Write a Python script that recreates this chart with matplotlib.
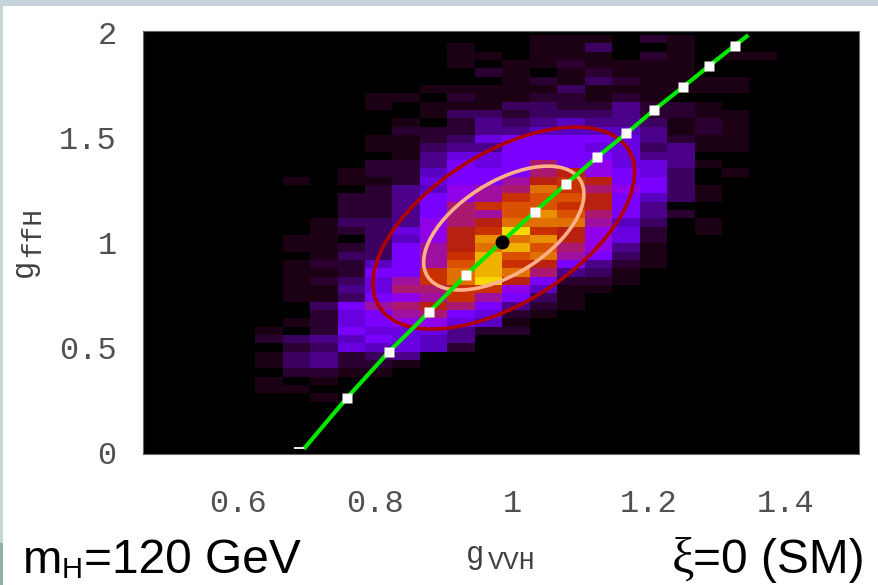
import numpy as np
import matplotlib
matplotlib.use('Agg')
import matplotlib.pyplot as plt
from matplotlib.colors import ListedColormap
from matplotlib.patches import Ellipse, Rectangle

# histogram levels, top row first, columns start at bin 4
hist_rows = [
    [0,0,0,0,0,0,0,0,0,0,1,1,1,0,2,1],
    [0,0,0,0,0,0,0,1,0,0,1,1,3,0,0,1],
    [0,0,0,0,0,0,0,1,1,0,1,1,1,0,2,1,0,1,1],
    [0,0,0,0,0,0,0,1,0,1,1,2,1,1,1,1],
    [0,0,0,0,0,0,0,0,2,1,0,1,2,1,1,1],
    [0,0,0,0,0,0,0,0,0,1,2,1,3,2,1,1,1,1],
    [0,0,0,0,0,0,1,1,1,1,1,3,1,1,1,1,1,1],
    [0,0,0,0,1,1,0,2,1,1,2,2,1,2,1],
    [0,0,0,0,1,0,1,1,1,3,3,2,2,4,2,2,1],
    [0,0,0,0,0,0,1,3,3,2,3,3,3,4,2,2,1,1],
    [0,0,0,0,0,1,0,2,4,3,4,5,4,4,3,1,2,1],
    [0,0,0,0,0,2,2,2,4,4,5,5,5,5,4,1,2,1],
    [0,0,0,0,1,1,2,3,6,7,7,7,7,6,4,2,1,1],
    [0,0,0,0,1,1,3,4,4,7,7,7,6,6,3,4,1,1],
    [0,0,0,0,0,1,4,6,6,7,7,7,7,6,4,4],
    [0,0,0,0,2,2,4,7,6,7,10,7,8,6,6,4,1],
    [0,0,0,1,2,2,5,7,7,7,10,11,8,7,6,3,0,1],
    [0,1,0,1,1,2,6,7,7,9,11,12,11,7,7,3],
    [0,0,0,0,2,4,5,8,9,10,14,12,10,8,7,3,1],
    [0,0,0,2,2,4,7,8,9,12,13,13,11,7,5,3,1],
    [0,0,0,2,2,4,7,10,12,13,13,12,11,7,4],
    [0,0,0,2,2,4,7,10,9,13,15,13,10,7,4,2],
    [0,0,1,3,3,4,8,10,11,14,14,14,9,5,3,0,1],
    [0,0,1,2,3,6,8,11,12,17,12,11,8,6,2,0,1],
    [0,1,1,0,3,5,8,11,15,14,15,11,8,6,2],
    [0,1,1,2,3,7,9,11,14,16,13,10,8,4,1],
    [0,0,1,3,3,7,9,12,16,13,14,9,7,3,1],
    [0,1,2,2,5,7,9,13,16,12,11,7,4,2,1],
    [0,1,1,2,7,7,12,14,16,14,10,4,3,1],
    [0,1,2,3,6,9,12,14,17,11,7,2,2,1],
    [0,1,1,4,6,10,10,12,12,8,5,1,1],
    [0,1,1,3,7,8,9,12,9,7,3,1],
    [0,0,3,7,9,10,11,10,7,4,2,1],
    [0,0,2,6,7,9,10,7,6,2,1],
    [0,1,2,6,7,8,8,6,5,1],
    [1,0,2,7,6,6,6,4,2,2],
    [2,3,4,5,7,6,5,4],
    [0,2,3,6,5,6,5,2],
    [1,3,4,2,3,4],
    [1,3,4,2,2,1],
    [0,2,2,1,1],
    [1,0,1],
    [1,1],
    [0,0,1],
]
level_colors = ['#000000', '#1c0014', '#2a0030', '#3c0060', '#4a0088', '#5a00c0',
                '#6800e0', '#7a00ff', '#9000e8', '#a010a0', '#aa1870', '#b82010',
                '#c83000', '#d85000', '#e07000', '#e89000', '#f0b000', '#f8d800']

# green curve and the white points on it
curve_x = [0.696, 0.759, 0.820, 0.879, 0.933, 0.985, 1.033, 1.079, 1.124, 1.167, 1.208, 1.249, 1.288, 1.325, 1.345]
curve_y = [0.019, 0.262, 0.481, 0.671, 0.848, 1.005, 1.148, 1.281, 1.408, 1.522, 1.635, 1.741, 1.844, 1.940, 1.990]
point_x = curve_x[1:5] + curve_x[6:14]
point_y = curve_y[1:5] + curve_y[6:14]
sm_x, sm_y = 0.985, 1.005

# contours: centre, half widths and correlation
ell_cx, ell_cy, ell_rho = 0.988, 1.071, 0.55
outer_sx, outer_sy = 0.191, 0.481
inner_sx, inner_sy = 0.117, 0.295

xticks = [0.6, 0.8, 1, 1.2, 1.4]
yticks = [0, 0.5, 1, 1.5, 2]
xticklabels = ['0.6', '0.8', '1', '1.2', '1.4']
yticklabels = ['0', '0.5', '1', '1.5', '2']

W, H = 879, 585
fig = plt.figure(figsize=(W / 100, H / 100), dpi=100, facecolor='white')


def fx(px):
    return px / W


def fy(py):
    return 1 - py / H


# slide background strips
strip = '#c6d3d9'
fig.patches.append(Rectangle((0, fy(6)), 1, 6 / H, transform=fig.transFigure, color=strip, lw=0))
fig.patches.append(Rectangle((0, 0), 3 / W, 1, transform=fig.transFigure, color=strip, lw=0))
fig.patches.append(Rectangle((0, 0), 3 / W, 42 / H, transform=fig.transFigure, color='#8fb0ac', lw=0))

ax = fig.add_axes([fx(143), fy(454), 716 / W, 423 / H], facecolor='black')

grid = np.zeros((50, 26))
for r, row in enumerate(hist_rows):
    grid[49 - r, 4:4 + len(row)] = row
x_edges = np.linspace(0.4647, 1.507, 27)
y_edges = np.linspace(0.006, 1.990, 51)
ax.pcolormesh(x_edges, y_edges, grid, cmap=ListedColormap(level_colors), vmin=-0.5, vmax=17.5)


def contour(sx, sy, color):
    cov = np.array([[sx * sx, ell_rho * sx * sy], [ell_rho * sx * sy, sy * sy]])
    vals, vecs = np.linalg.eigh(cov)
    angle = np.degrees(np.arctan2(vecs[1, 1], vecs[0, 1]))
    ax.add_patch(Ellipse((ell_cx, ell_cy), 2 * np.sqrt(vals[1]), 2 * np.sqrt(vals[0]), angle=angle,
                         fill=False, edgecolor=color, lw=2.6, zorder=3))


contour(outer_sx, outer_sy, '#b00000')
contour(inner_sx, inner_sy, '#ffb088')

ax.plot(curve_x, curve_y, color='#00e800', lw=3, zorder=4, solid_capstyle='butt')
ax.plot(point_x, point_y, ls='none', marker='s', ms=7.6, mfc='white', mec='none', zorder=5)
ax.plot([0.689], [0.022], ls='none', marker='_', ms=7.5, mew=1.3, color='white', zorder=5)
ax.plot([sm_x], [sm_y], ls='none', marker='o', ms=10, mfc='black', mec='none', zorder=6)

ax.set_xlim(0.4613, 1.5066)
ax.set_ylim(-0.005, 2.0095)
ax.set_xticks(xticks)
ax.set_xticklabels(xticklabels)
ax.set_yticks(yticks)
ax.set_yticklabels(yticklabels)
ax.tick_params(axis='x', length=0, pad=25.5, labelsize=23, labelcolor='#505050')
ax.tick_params(axis='y', length=0, pad=19, labelsize=23, labelcolor='#505050')
for lab in ax.get_xticklabels() + ax.get_yticklabels():
    lab.set_family('Liberation Mono')
for s in ax.spines.values():
    s.set_color('#666666')
    s.set_linewidth(0.8)

# axis names
mono = dict(family='Liberation Mono', color='#404040', ha='center', va='center')
fig.text(fx(475), fy(555), 'g', fontsize=22, **mono)
fig.text(fx(512), fy(562), 'VVH', fontsize=19, **mono)
fig.text(fx(24), fy(268), 'g', fontsize=22, rotation=90, **mono)
fig.text(fx(33), fy(232), 'ffH', fontsize=20, rotation=90, **mono)

# captions under the plot
sans = dict(family='Liberation Sans', color='black', va='baseline')
fig.text(fx(23), fy(573), 'm', fontsize=34, **sans)
fig.text(fx(62), fy(578), 'H', fontsize=21, **sans)
fig.text(fx(84), fy(573), '=120 GeV', fontsize=34.5, **sans)
fig.text(fx(865), fy(573), '=0 (SM)', fontsize=34.5, ha='right', **sans)
fig.text(fx(672), fy(573), '\u03be', fontsize=36, family='Liberation Serif', color='black', va='baseline')

fig.savefig('out.png', dpi=100)
